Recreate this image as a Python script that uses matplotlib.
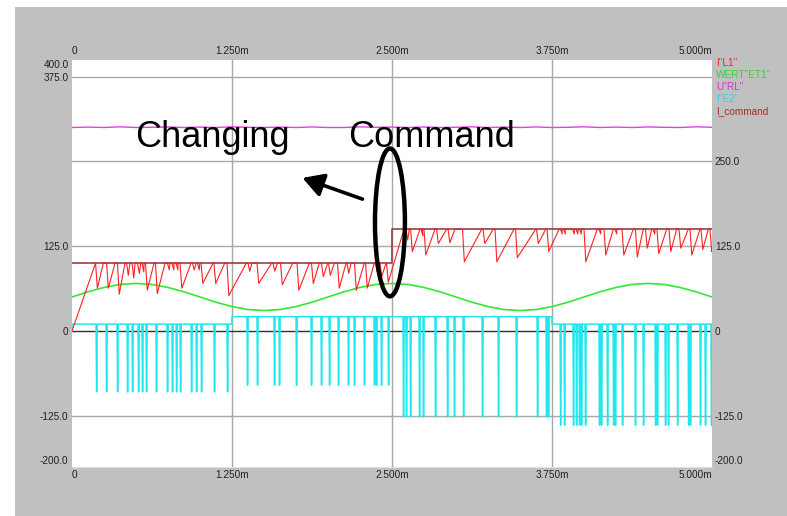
import numpy as np
import matplotlib.pyplot as plt
from matplotlib.patches import Ellipse, Rectangle, FancyArrowPatch

plt.rcParams['font.family'] = ['Liberation Sans', 'DejaVu Sans']

# time axis in ms
x_ticks = [0, 1.25, 2.5, 3.75, 5.0]
x_labels = ['0', '1.250m', '2.500m', '3.750m', '5.000m']
left_ticks = [400, 375, 125, 0, -125, -200]
left_labels = ['400.0', '375.0', '125.0', '0', '-125.0', '-200.0']
right_ticks = [250, 125, 0, -125, -200]
right_labels = ['250.0', '125.0', '0', '-125.0', '-200.0']

# I_command
cmd_t = [0, 2.5, 2.5, 5.0]
cmd_v = [100, 100, 150, 150]

# I"L1": per tooth -> switch time, lowest current, time back on the command
drop_t = [0.184, 0.270, 0.355, 0.426, 0.469, 0.512, 0.547, 0.574, 0.652, 0.746,
          0.781, 0.813, 0.844, 0.941, 0.980, 1.008, 1.109, 1.211, 1.375, 1.445,
          1.570, 1.629, 1.758, 1.871, 1.949, 2.004, 2.074, 2.148, 2.207, 2.293,
          2.371, 2.406, 2.457,
          2.609, 2.645, 2.727, 2.750, 2.848, 2.938, 3.051, 3.211, 3.305, 3.465,
          3.629, 3.711, 3.816, 3.840, 3.910, 3.938, 3.965, 4.000, 4.117, 4.156,
          4.242, 4.297, 4.402, 4.480, 4.539, 4.570, 4.664, 4.742, 4.828, 4.914]
drop_low = [63, 63, 54, 82, 78, 85, 87, 60, 55, 90,
            90, 90, 63, 90, 90, 70, 70, 52, 88, 70,
            88, 68, 60, 70, 80, 82, 63, 85, 60, 63,
            87, 80, 72,
            134, 117, 140, 112, 129, 130, 102, 129, 102, 108,
            129, 117, 143, 143, 143, 143, 143, 102, 143, 112,
            143, 112, 109, 122, 143, 114, 117, 122, 112, 120]
peak_t = [0.245, 0.336, 0.414, 0.453, 0.492, 0.537, 0.563, 0.641, 0.727, 0.766,
          0.797, 0.828, 0.930, 0.969, 0.998, 1.102, 1.193, 1.362, 1.406, 1.560,
          1.605, 1.724, 1.854, 1.932, 1.998, 2.049, 2.141, 2.180, 2.284, 2.362,
          2.387, 2.453, 2.594,
          2.635, 2.719, 2.738, 2.836, 2.927, 2.992, 3.201, 3.291, 3.453, 3.623,
          3.701, 3.805, 3.828, 3.852, 3.926, 3.953, 3.980, 4.104, 4.130, 4.229,
          4.255, 4.385, 4.463, 4.529, 4.555, 4.646, 4.724, 4.815, 4.906, 4.971]
tail_t = [4.984, 4.998, 5.0]
tail_v = [150, 117, 118]

# WERT"ET1", sampled every 0.125 ms
wert_v = [50, 57.7, 64.1, 68.5, 70, 68.5, 64.1, 57.7, 50, 42.3,
          35.9, 31.5, 30, 31.5, 35.9, 42.3, 50, 57.7, 64.1, 68.5,
          70, 68.5, 64.1, 57.7, 50, 42.3, 35.9, 31.5, 30, 31.5,
          35.9, 42.3, 50, 57.7, 64.1, 68.5, 70, 68.5, 64.1, 57.7, 50]

# U"RL", sampled every 0.125 ms
url_v = [300, 300.6, 300, 301, 300, 300.3, 300.8, 300, 300.6, 300,
         301, 300.3, 300, 300.6, 300, 300.8, 300, 300, 301, 300.3,
         300.6, 300, 300.8, 300, 300.3, 301, 300, 300.6, 300, 300.8,
         300, 300.3, 301, 300, 300.6, 300, 300.8, 300.3, 300, 301, 300.3]

# I"E2": level and floor per quarter, pulse times
seg_edges = [0, 1.25, 2.5, 3.75, 5.0]
e2_base = [10, 21, 21, 10]
e2_floor = [-90, -80, -127, -139]
e2_pulses = [0.188, 0.266, 0.352, 0.430, 0.469, 0.516, 0.547, 0.578, 0.656, 0.742,
             0.781, 0.813, 0.844, 0.930, 0.969, 1.008, 1.109, 1.211,
             1.367, 1.445, 1.578, 1.617, 1.750, 1.867, 1.945, 2.008, 2.078, 2.156,
             2.203, 2.281, 2.359, 2.375, 2.414, 2.469,
             2.586, 2.609, 2.641, 2.711, 2.742, 2.836, 2.930, 2.984, 3.055, 3.203,
             3.328, 3.469, 3.633, 3.703, 3.719,
             3.813, 3.844, 3.914, 3.938, 3.961, 3.977, 4.008, 4.117, 4.133, 4.180,
             4.227, 4.242, 4.297, 4.398, 4.461, 4.555, 4.570, 4.633, 4.656, 4.727,
             4.813, 4.828, 4.906, 4.945, 4.992]

legend_names = ['I"L1"', 'WERT"ET1"', 'U"RL"', 'I"E2"', 'I_command']
legend_cols = ['#ee2a2a', '#2ed82e', '#d832d8', '#2ed8d8', '#9a3030']


def command_at(t):
    return 100 if t < 2.5 else 150


# build the L1 trace from the teeth
red_t, red_v = [0.0], [0.0]
for t0, lo, t1 in zip(drop_t, drop_low, peak_t):
    red_t += [t0, t0 + 0.014, t1]
    red_v += [command_at(t0), lo, command_at(t1)]
red_t += tail_t
red_v += tail_v

# build the E2 trace
w = 0.009
cy_t, cy_v = [0.0], [0.0]
for i in range(4):
    a, b = seg_edges[i], seg_edges[i + 1]
    cy_t.append(a)
    cy_v.append(e2_base[i])
    for s in e2_pulses:
        if a <= s < b:
            cy_t += [s, s + w / 2, s + w]
            cy_v += [e2_base[i], e2_floor[i], e2_base[i]]
    cy_t.append(b)
    cy_v.append(e2_base[i])

t_grid = np.linspace(0, 5, len(wert_v))

fig = plt.figure(figsize=(7.87, 5.16), dpi=100)
fig.patch.set_facecolor('white')
fig.patches.append(Rectangle((15 / 787, 0), 1, 509 / 516, transform=fig.transFigure,
                             facecolor='#c0c0c0', edgecolor='none', zorder=-5))

ax = fig.add_axes([72 / 787, 1 - 466.5 / 516, 640 / 787, 406.8 / 516])
ax.set_facecolor('white')
ax.set_xlim(0, 5)
ax.set_ylim(-200, 400)

for g in [375, 250, 125, -125]:
    ax.axhline(g, color='#a8a8a8', lw=1.0, zorder=1)
for g in [1.25, 2.5, 3.75]:
    ax.axvline(g, color='#a8a8a8', lw=1.0, zorder=1)
ax.axhline(0, color='#303030', lw=1.0, zorder=1)

ax.plot(t_grid, wert_v, color='#33e833', lw=1.2, zorder=3)
ax.plot(cy_t, cy_v, color='#1ee8ee', lw=1.1, zorder=3)
ax.plot(red_t, red_v, color='#ff2020', lw=0.8, zorder=4)
ax.plot(cmd_t, cmd_v, color='#a03c3c', lw=1.2, zorder=5)
ax.plot(t_grid, url_v, color='#e040e0', lw=1.0, zorder=4)

for s in ax.spines.values():
    s.set_visible(False)
ax.spines['bottom'].set_visible(True)
ax.spines['bottom'].set_color('#e0e0e0')

ax.set_xticks(x_ticks)
ax.set_xticklabels(x_labels)
ax.tick_params(axis='x', top=True, labeltop=True, length=0, pad=2.5,
               labelsize=7.2, labelcolor='#202020')
ticks = ax.xaxis.get_major_ticks()
for i, tk in enumerate(ticks):
    ha = 'left' if i == 0 else ('right' if i == len(ticks) - 1 else 'center')
    tk.label1.set_horizontalalignment(ha)
    tk.label2.set_horizontalalignment(ha)

ax.set_yticks(left_ticks)
ax.set_yticklabels(left_labels)
ax.tick_params(axis='y', length=0, pad=2.5, labelsize=7.2, labelcolor='#202020')
yt = ax.yaxis.get_major_ticks()
yt[0].label1.set_verticalalignment('top')
yt[-1].label1.set_verticalalignment('bottom')

ax2 = ax.twinx()
ax2.set_ylim(-200, 400)
ax2.set_yticks(right_ticks)
ax2.set_yticklabels(right_labels)
ax2.tick_params(axis='y', length=0, pad=2, labelsize=7.2, labelcolor='#202020')
for s in ax2.spines.values():
    s.set_visible(False)
yt2 = ax2.yaxis.get_major_ticks()
yt2[-1].label2.set_verticalalignment('bottom')

for k, (name, col) in enumerate(zip(legend_names, legend_cols)):
    fig.text(716 / 787, 1 - (63 + 12 * k) / 516, name, color=col,
             fontsize=7.2, va='center', ha='left')

# annotation
ax.text(0.49, 271, 'Changing', fontsize=26, color='black', va='baseline', ha='left', zorder=6)
ax.text(2.155, 271, 'Command', fontsize=26, color='black', va='baseline', ha='left', zorder=6)
ax.add_patch(Ellipse((2.484, 160), 0.234, 218, fill=False, edgecolor='black', lw=3.2, zorder=6))
ax.add_patch(FancyArrowPatch((2.29, 193), (1.78, 227),
                             arrowstyle='-|>,head_length=0.7,head_width=0.4',
                             mutation_scale=18, color='black', lw=2.6, zorder=6))

fig.savefig('out.png', dpi=100)
